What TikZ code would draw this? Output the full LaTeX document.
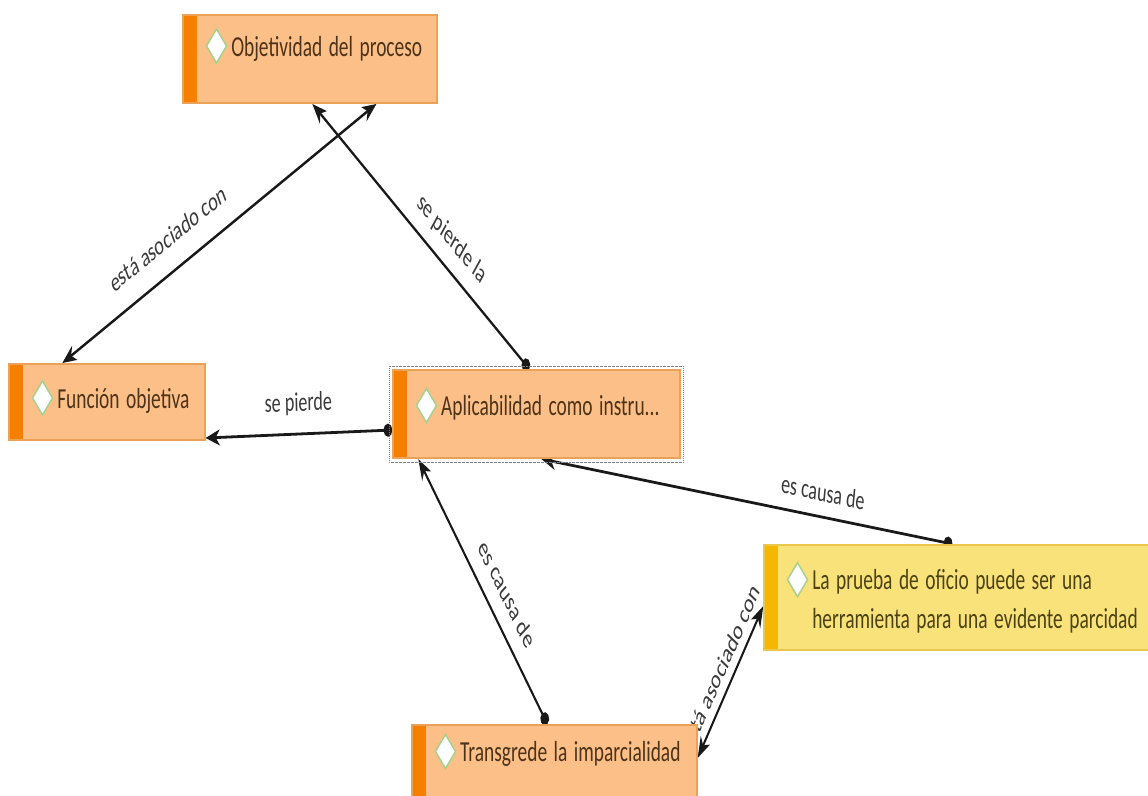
\documentclass[tikz,border=0pt]{standalone}
\usepackage{fontspec}
\setmainfont{Carlito}
\usetikzlibrary{arrows.meta}
\pgfdeclarelayer{back}
\pgfsetlayers{back,main}
\definecolor{peach}{HTML}{FCBF88}
\definecolor{peachedge}{HTML}{E9A257}
\definecolor{orangebar}{HTML}{F77F00}
\definecolor{lemon}{HTML}{FAE27B}
\definecolor{lemonedge}{HTML}{E9C84C}
\definecolor{lemonbar}{HTML}{F4B800}
\definecolor{gemgreen}{HTML}{A9D18E}
\definecolor{inkbrown}{HTML}{4D3319}
\definecolor{inkolive}{HTML}{4B4313}
\definecolor{linkgray}{HTML}{3A3A3A}
\newcommand{\gem}{\tikz[baseline=-10pt]\draw[gemgreen, fill=white, line width=2pt] (0pt,-17pt) -- (15pt,0pt) -- (0pt,17pt) -- (-15pt,0pt) -- cycle;}
\begin{document}
\begin{tikzpicture}[x=1pt, y=-1pt,
  concept/.style={rectangle, draw=peachedge, fill=peach, line width=2pt, inner xsep=0pt, inner ysep=0pt, align=left, text=inkbrown, font=\fontsize{29}{39}\selectfont,
    path picture={\fill[orangebar] (path picture bounding box.north west) rectangle ([xshift=21pt]path picture bounding box.south west);}},
  lemonconcept/.style={concept, draw=lemonedge, fill=lemon, text=inkolive,
    path picture={\fill[lemonbar] (path picture bounding box.north west) rectangle ([xshift=21pt]path picture bounding box.south west);}},
  link/.style={line width=2.8pt, draw=black!90, {Circle[length=13pt]}-{Stealth[length=21pt,width=16pt,inset=6pt]}},
  pair/.style={line width=2.8pt, draw=black!90, {Stealth[length=21pt,width=16pt,inset=6pt]}-{Stealth[length=21pt,width=16pt,inset=6pt]}},
  tag/.style={sloped, inner sep=3pt, text=linkgray, font=\fontsize{27}{32}\selectfont}]
\useasboundingbox (0,0) rectangle (1148,795);

\begin{scope}[transform canvas={xscale=0.67}]
\node[concept, text width=379.1pt, minimum height=88pt, text depth=34pt] (obj) at (462.7,59) {\hspace*{34pt}\gem\hspace{6pt}Objetividad del proceso};
\node[concept, text width=292.5pt, minimum height=76pt, text depth=16pt] (func) at (159.7,402) {\hspace*{34pt}\gem\hspace{6pt}Función objetiva};
\node[concept, text width=428.4pt, minimum height=88pt, text depth=25pt] (apl) at (800.7,414) {\hspace*{34pt}\gem\hspace{6pt}Aplicabilidad como instru...};
\node[lemonconcept, text width=591pt, minimum height=105pt] (prueba) at (1435.8,597.5) {\hspace*{34pt}\gem\hspace{6pt}La prueba de oficio puede ser una\\\hspace*{72pt}herramienta para una evidente parcidad};
\node[concept, text width=425.4pt, minimum height=88pt, text depth=43pt] (trans) at (827.6,769) {\hspace*{34pt}\gem\hspace{6pt}Transgrede la imparcialidad};

% selected concept
\draw[densely dotted, gray, line width=1pt] ([shift={(-4.5pt,3pt)}]apl.north west) rectangle ([shift={(4.5pt,-3pt)}]apl.south east);
\end{scope}

\begin{pgfonlayer}{back}
\begin{scope}[transform canvas={xscale=0.67}]
\draw[pair] ([xshift=80.6pt]func.north west) -- node[tag, pos=0.37, above=19pt] {está asociado con} ([xshift=289.6pt]obj.south west);
\draw[link] ([xshift=204.4pt]apl.north west) -- node[tag, pos=0.41, above=11pt] {se pierde la} ([xshift=194.1pt]obj.south west);
\draw[link] ([yshift=-16pt]apl.west) -- node[tag, above=14pt] {se pierde} ([yshift=-36pt]func.east);
\draw[link] ([xshift=203pt]trans.north west) -- node[tag, pos=0.43, above=14pt] {es causa de} ([xshift=38.8pt]apl.south west);
\draw[link] ([xshift=282.1pt]prueba.north west) -- node[tag, pos=0.32, above=11pt] {es causa de} ([xshift=222.4pt]apl.south west);
\draw[pair] ([yshift=11pt]trans.east) -- node[tag, pos=0.52, above=6pt] {está asociado con} ([yshift=-8.5pt]prueba.west);
\end{scope}
\end{pgfonlayer}
\end{tikzpicture}
\end{document}
